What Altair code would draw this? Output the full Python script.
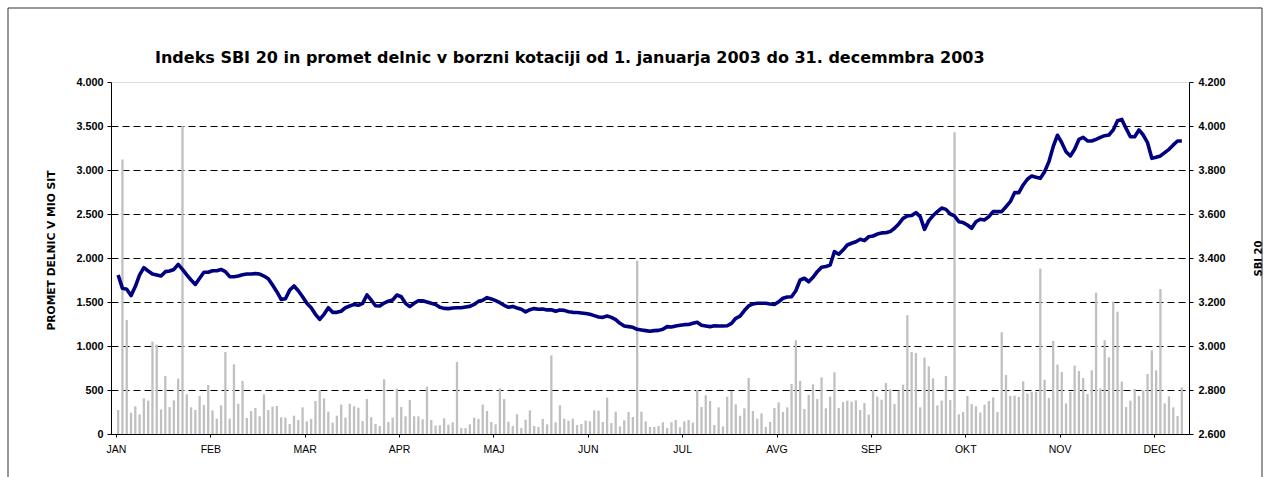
import altair as alt
import pandas as pd

FONT = "Liberation Sans"
TFONT = "DejaVu Sans"

TITLE = "Indeks SBI 20 in promet delnic v borzni kotaciji od 1. januarja 2003 do 31. decemmbra 2003"
LEFT_TITLE = "PROMET DELNIC V MIO SIT"
RIGHT_TITLE = "SBI 20"

MONTHS = ["JAN", "FEB", "MAR", "APR", "MAJ", "JUN", "JUL", "AVG", "SEP", "OKT", "NOV", "DEC"]
DAYS_PER_TICK = 22

# daily share turnover (mio SIT), one value per trading day
TURNOVER = [
    273, 3120, 1295, 243, 315, 224, 405, 379, 1050, 1016,
    280, 660, 307, 383, 629, 3500, 451, 303, 273, 432,
    330, 557, 269, 174, 326, 932, 174, 792, 345, 603,
    182, 261, 296, 201, 451, 273,
    311, 318, 190, 186, 114, 208, 159, 303, 144, 171,
    375, 496, 405, 254, 129, 208, 334, 186, 345, 315,
    299, 148, 398, 190, 114, 91, 622, 136, 186, 515,
    307, 201, 387, 201, 201, 167, 538,
    159, 95, 99, 178, 106, 133, 819, 68, 68, 110,
    186, 171, 334, 262, 136, 110, 519, 398, 140, 91,
    224, 68, 163, 269, 91, 80, 171, 110, 894, 133,
    326, 174, 152, 174, 102, 114,
    152, 144, 269, 265, 136, 413, 125, 254, 87, 155,
    250, 193, 1970, 254, 144, 80, 80, 91, 133, 68,
    133, 159, 76, 144, 159, 129, 500, 307, 440, 375,
    102, 303, 87, 424, 489, 337, 208,
    292, 637, 262, 174, 235, 80, 136, 296, 360, 250,
    303, 569, 1065, 603, 284, 443, 565, 398, 644, 292,
    424, 701, 296, 364, 379, 368, 383, 273, 352, 220,
    500, 424, 390, 580, 508, 341,
    493, 561, 1350, 932, 921, 303, 868, 769, 633, 326,
    379, 660, 387, 3430, 224, 250, 432, 341, 315, 243,
    334, 375, 417, 250, 1156, 671, 432, 436, 421, 599,
    459, 481, 481, 1880, 618, 409, 1057,
    788, 705, 349, 478, 777, 716, 637, 455, 724, 1606,
    519, 1065, 872, 1504, 1390, 595, 307, 379, 512, 432,
    496, 682, 951, 724, 1648, 349, 428, 303, 205, 530,
]

# SBI 20 index, one value per trading day
SBI20 = [
    3323, 3262, 3258, 3229, 3270, 3323, 3356, 3341, 3327, 3323,
    3318, 3338, 3341, 3348, 3371, 3348, 3323, 3300, 3280, 3308,
    3335, 3335, 3342, 3342, 3348, 3338, 3315, 3315, 3318, 3324,
    3327, 3327, 3329, 3327, 3318, 3306, 3277, 3247, 3212, 3215,
    3254, 3273, 3251, 3224, 3194, 3174, 3144, 3121, 3144, 3174,
    3153, 3153, 3158, 3174, 3182, 3189, 3185, 3194, 3232, 3209,
    3183, 3182, 3195, 3204, 3209, 3232, 3224,
    3194, 3179, 3194, 3206, 3206, 3200, 3194, 3189, 3176, 3171,
    3170, 3173, 3174, 3174, 3177, 3180, 3189, 3203, 3208, 3220,
    3214, 3206, 3197, 3185, 3176, 3180, 3173, 3167, 3155, 3165,
    3170, 3167, 3168, 3164, 3165, 3158, 3164, 3162, 3156, 3153,
    3152, 3150, 3148, 3144, 3138, 3132, 3130, 3136, 3130, 3120,
    3103, 3091, 3088, 3085, 3076, 3073, 3070, 3067, 3070, 3071,
    3076, 3088, 3086, 3091,
    3094, 3097, 3098, 3103, 3108, 3094, 3091, 3088, 3092, 3091,
    3091, 3092, 3103, 3126, 3136, 3161, 3182, 3191, 3194, 3194,
    3194, 3191, 3189, 3201, 3217, 3223, 3224, 3251, 3300, 3308,
    3292, 3312, 3338, 3358, 3361, 3368, 3429, 3417, 3436, 3459,
    3467, 3474, 3485, 3479, 3497, 3500, 3509, 3514, 3515, 3520,
    3535, 3555, 3580, 3591, 3593, 3606, 3588, 3530, 3570, 3593,
    3611, 3627, 3621, 3600, 3591,
    3565, 3561, 3550, 3535, 3565, 3576, 3573, 3588, 3611, 3611,
    3611, 3633, 3656, 3697, 3697, 3732, 3758, 3773, 3767, 3762,
    3792, 3838, 3906, 3958, 3924, 3883, 3864, 3894, 3939, 3948,
    3932, 3932, 3939, 3948, 3956, 3959, 3982, 4024, 4030, 3989,
    3951, 3951, 3982, 3959, 3924, 3853, 3858, 3864, 3879, 3894,
    3914, 3932, 3932,
]

LEFT_TICKS = [0, 500, 1000, 1500, 2000, 2500, 3000, 3500, 4000]
RIGHT_TICKS = [2600, 2800, 3000, 3200, 3400, 3600, 3800, 4000, 4200]

n = len(TURNOVER)
df = pd.DataFrame({
    "day": [i + 0.5 for i in range(n)],
    "promet": TURNOVER,
    "sbi": SBI20,
})

month_js = "[" + ",".join("'%s'" % m for m in MONTHS) + "]"
num_fmt = "replace(format(datum.value, ','), ',', '.')"

x_enc = alt.X(
    "day:Q",
    scale=alt.Scale(domain=[0, n], nice=False, zero=False),
    axis=alt.Axis(
        values=[k * DAYS_PER_TICK for k in range(len(MONTHS))],
        labelExpr=month_js + "[round(datum.value / %d)]" % DAYS_PER_TICK,
        title=None, grid=False,
        domainColor="black", tickColor="black", tickSize=3,
        labelFont=FONT, labelFontSize=10.5, labelColor="black", labelPadding=7,
    ),
)

bars = alt.Chart(df).mark_bar(color="#C0C0C0", size=2.3).encode(
    x=x_enc,
    y=alt.Y(
        "promet:Q",
        scale=alt.Scale(domain=[0, 4000], nice=False),
        axis=alt.Axis(
            values=LEFT_TICKS, labelExpr=num_fmt,
            title=LEFT_TITLE, titleFont=TFONT, titleFontSize=10.7, titleFontWeight="bold",
            titleColor="black", titleX=-55, titleY=168,
            labelFont=FONT, labelFontSize=10.8, labelFontWeight="bold", labelColor="black",
            labelPadding=4,
            domainColor="black", tickColor="black", tickSize=4,
            grid=True, gridColor="black", gridDash=[7, 4], gridWidth=1,
            gridOpacity=alt.condition("datum.value >= 4000", alt.value(0), alt.value(1)),
        ),
    ),
)

line = alt.Chart(df).mark_line(color="#000080", strokeWidth=3.6, strokeJoin="round").encode(
    x=x_enc,
    y=alt.Y(
        "sbi:Q",
        scale=alt.Scale(domain=[2600, 4200], nice=False, zero=False),
        axis=alt.Axis(
            orient="right", values=RIGHT_TICKS, labelExpr=num_fmt,
            title=RIGHT_TITLE, titleFont=TFONT, titleFontSize=10, titleFontWeight="bold",
            titleColor="black", titleAngle=270, titleX=74, titleY=176,
            labelFont=FONT, labelFontSize=10.8, labelFontWeight="bold", labelColor="black",
            labelPadding=5,
            domainColor="black", tickColor="black", tickSize=4,
            grid=False,
        ),
    ),
)

one = alt.Data(values=[{"f": 1}])

frame = alt.Chart(one).mark_rect(
    fillOpacity=0, stroke="#333333", strokeWidth=1
).encode(
    x=alt.value(-103), x2=alt.value(1151), y=alt.value(-74), y2=alt.value(430)
)

title = alt.Chart(one).mark_text(
    align="left", baseline="alphabetic", font=TFONT, fontSize=16, fontWeight="bold", color="black"
).encode(
    x=alt.value(44), y=alt.value(-19), text=alt.value(TITLE)
)

chart = alt.layer(bars, line, frame, title).resolve_scale(y="independent").properties(
    width=1078, height=352,
    autosize=alt.AutoSizeParams(type="none"),
    padding={"left": 111, "top": 82, "right": 81, "bottom": 43},
).configure_view(stroke="#999999", strokeWidth=1).configure(background="white")

chart.save("out.html", embed_options={"renderer": "svg", "actions": False})
